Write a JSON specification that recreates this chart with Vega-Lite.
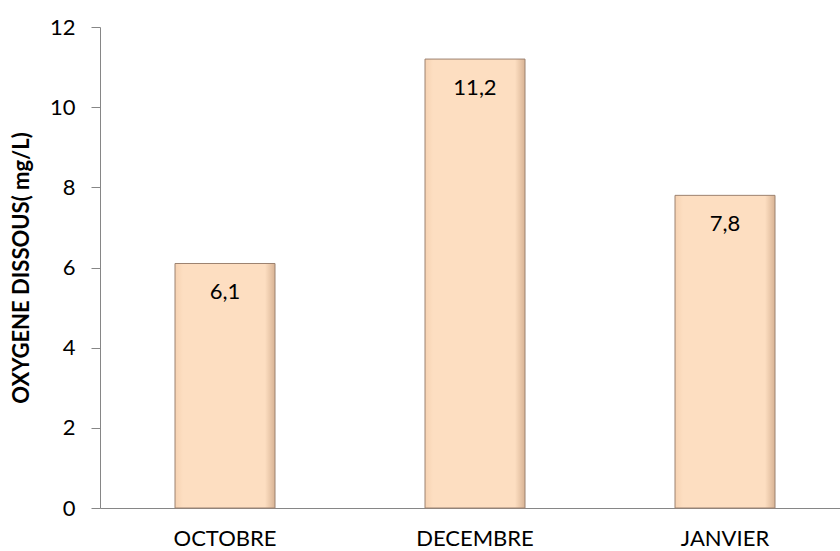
{
  "$schema": "https://vega.github.io/schema/vega-lite/v6.json",
  "width": 750,
  "height": 481,
  "autosize": {"type": "none"},
  "padding": {"left": 100, "top": 27, "right": 0, "bottom": 43},
  "background": "white",
  "config": {
    "locale": {"number": {"decimal": ",", "thousands": " ", "grouping": [3], "currency": ["", " €"]}},
    "view": {"stroke": null},
    "font": "Lato",
    "axis": {
      "domainColor": "#868686",
      "tickColor": "#868686",
      "labelColor": "#000000",
      "titleColor": "#000000",
      "labelFont": "Lato",
      "titleFont": "Lato",
      "labelFontSize": 22,
      "titleFontSize": 22,
      "grid": false
    }
  },
  "data": {
    "values": [
      {"mois": "OCTOBRE", "oxygene": 6.1},
      {"mois": "DECEMBRE", "oxygene": 11.2},
      {"mois": "JANVIER", "oxygene": 7.8}
    ]
  },
  "encoding": {
    "x": {
      "field": "mois",
      "type": "nominal",
      "sort": null,
      "scale": {"paddingInner": 0.6, "paddingOuter": 0.3},
      "axis": {"title": null, "labelAngle": 0, "ticks": false, "labelPadding": 20}
    },
    "y": {
      "field": "oxygene",
      "type": "quantitative",
      "scale": {"domain": [0, 12], "nice": false},
      "axis": {
        "title": "OXYGENE DISSOUS( mg/L)",
        "titleFontWeight": "bold",
        "values": [0, 2, 4, 6, 8, 10, 12],
        "tickSize": 9,
        "labelPadding": 16,
        "titlePadding": 16
      }
    }
  },
  "layer": [
    {
      "mark": {
        "type": "bar",
        "color": {
          "gradient": "linear",
          "x1": 0, "y1": 0, "x2": 1, "y2": 0,
          "stops": [
            {"offset": 0, "color": "#F6D2B2"},
            {"offset": 0.08, "color": "#FDDEC1"},
            {"offset": 0.9, "color": "#FDDEC1"},
            {"offset": 1, "color": "#D8B394"}
          ]
        },
        "stroke": "#9C8270",
        "strokeWidth": 1
      }
    },
    {
      "mark": {"type": "text", "baseline": "middle", "dy": 29, "fontSize": 22, "font": "Lato", "color": "#000000"},
      "encoding": {
        "text": {"field": "oxygene", "type": "quantitative", "format": ".1f"}
      }
    }
  ]
}
